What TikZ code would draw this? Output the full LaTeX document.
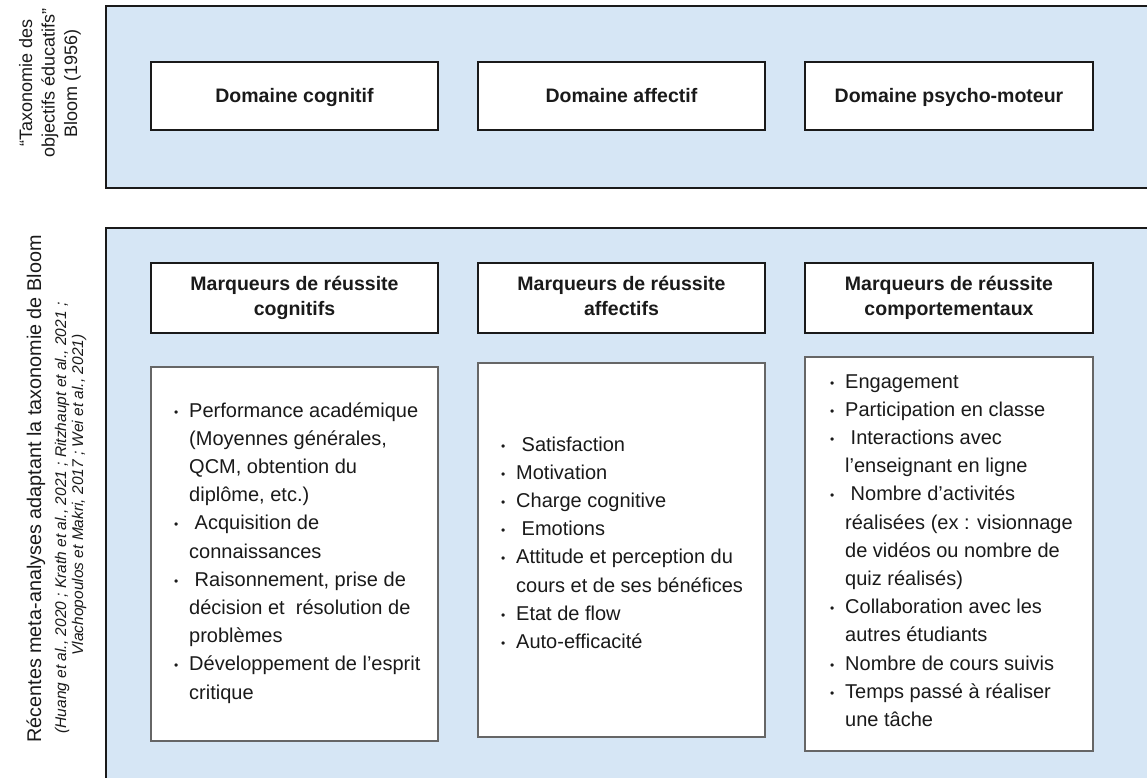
\documentclass[tikz,border=0pt]{standalone}
\usepackage{fontspec}
\setmainfont{Liberation Sans}
\usepackage{array}
\definecolor{panelblue}{HTML}{D6E6F5}
\definecolor{ink}{HTML}{1A1A1A}
\newcommand{\mybul}{\makebox[15pt][l]{\fontsize{12}{12}\selectfont\raisebox{1pt}{•}}}
\newcommand{\leadsp}{\hspace{5.5pt}}
\begin{document}
\begin{tikzpicture}[x=1pt,y=-1pt,
  panelfill/.style={fill=panelblue},
  paneledge/.style={draw=ink, line width=1.8pt},
  headbox/.style={draw=ink, fill=white, line width=1.8pt, inner sep=0pt, text=ink},
  listbox/.style={draw=black!60, fill=white, line width=1.2pt, inner sep=0pt},
  toptext/.style={font=\bfseries\fontsize{19.5}{24}\selectfont, text height=14pt, text depth=0pt},
  headtext/.style={font=\bfseries\fontsize{19.5}{25.5}\selectfont, align=center},
  listtext/.style={font=\fontsize{20}{28.2}\selectfont, text=ink, inner sep=0pt, anchor=base west},
  sidelabel/.style={rotate=90, align=center, text=ink, inner sep=0pt}
]
\useasboundingbox (0,0) rectangle (1147,778);
\fill[white] (0,0) rectangle (1147,778);

% panels
\fill[panelfill] (106,6) rectangle (1152,188);
\draw[paneledge] (1152,6) -- (106,6) -- (106,188) -- (1152,188);
\fill[panelfill] (106,228) rectangle (1152,782);
\draw[paneledge] (1152,228) -- (106,228) -- (106,782);

% side labels
\node[sidelabel, font=\fontsize{18}{22.5}\selectfont] (taxo) at (50,83)
  {“Taxonomie des\\objectifs éducatifs”\\Bloom (1956)};
\node[sidelabel, font=\fontsize{19.8}{22}\selectfont] (meta) at (36,489)
  {Récentes meta-analyses adaptant la taxonomie de Bloom};
\node[sidelabel, font=\itshape\fontsize{15.5}{17}\selectfont] (refs1) at (62,518)
  {(Huang et al., 2020 ; Krath et al., 2021 ; Ritzhaupt et al., 2021 ;};
\node[sidelabel, font=\itshape\fontsize{15.5}{17}\selectfont] (refs2) at (79,495)
  {Vlachopoulos et Makri, 2017 ; Wei et al., 2021)};

% top domain boxes
\node[headbox, toptext, minimum width=287, minimum height=68] (dcog) at (294.5,96) {Domaine cognitif};
\node[headbox, toptext, minimum width=287, minimum height=68] (daff) at (621.5,96) {Domaine affectif};
\node[headbox, toptext, minimum width=288, minimum height=68] (dpsy) at (949,96) {Domaine psycho-moteur};

% marker headers
\node[headbox, headtext, minimum width=287, minimum height=70] (mcog) at (294.5,298) {Marqueurs de réussite\\cognitifs\vphantom{g}};
\node[headbox, headtext, minimum width=287, minimum height=70] (maff) at (621.5,298) {Marqueurs de réussite\\affectifs\vphantom{g}};
\node[headbox, headtext, minimum width=288, minimum height=70] (mcomp) at (949,298) {Marqueurs de réussite\\comportementaux\vphantom{g}};

% list boxes
\node[listbox, minimum width=287, minimum height=374] (lcog) at (294.5,554) {};
\node[listbox, minimum width=287, minimum height=374] (laff) at (621.5,550) {};
\node[listbox, minimum width=288, minimum height=394] (lcomp) at (949,554) {};

% list texts
\node[listtext] (tcog) at (174,417) {\begin{tabular}[t]{@{}l@{}l@{}}
\mybul & Performance académique\\
 & (Moyennes générales,\\
 & QCM, obtention du\\
 & diplôme, etc.)\\
\mybul & \leadsp Acquisition de\\
 & connaissances\\
\mybul & \leadsp Raisonnement, prise de\\
 & décision et \ résolution de\\
 & problèmes\\
\mybul & Développement de l’esprit\\
 & critique
\end{tabular}};

\node[listtext] (taff) at (501,451) {\begin{tabular}[t]{@{}l@{}l@{}}
\mybul & \leadsp Satisfaction\\
\mybul & Motivation\\
\mybul & Charge cognitive\\
\mybul & \leadsp Emotions\\
\mybul & Attitude et perception du\\
 & cours et de ses bénéfices\\
\mybul & Etat de flow\\
\mybul & Auto-efficacité
\end{tabular}};

\node[listtext] (tcomp) at (830,388) {\begin{tabular}[t]{@{}l@{}l@{}}
\mybul & Engagement\\
\mybul & Participation en classe\\
\mybul & \leadsp Interactions avec\\
 & l’enseignant en ligne\\
\mybul & \leadsp Nombre d’activités\\
 & réalisées (ex : visionnage\\
 & de vidéos ou nombre de\\
 & quiz réalisés)\\
\mybul & Collaboration avec les\\
 & autres étudiants\\
\mybul & Nombre de cours suivis\\
\mybul & Temps passé à réaliser\\
 & une tâche
\end{tabular}};
\end{tikzpicture}
\end{document}
